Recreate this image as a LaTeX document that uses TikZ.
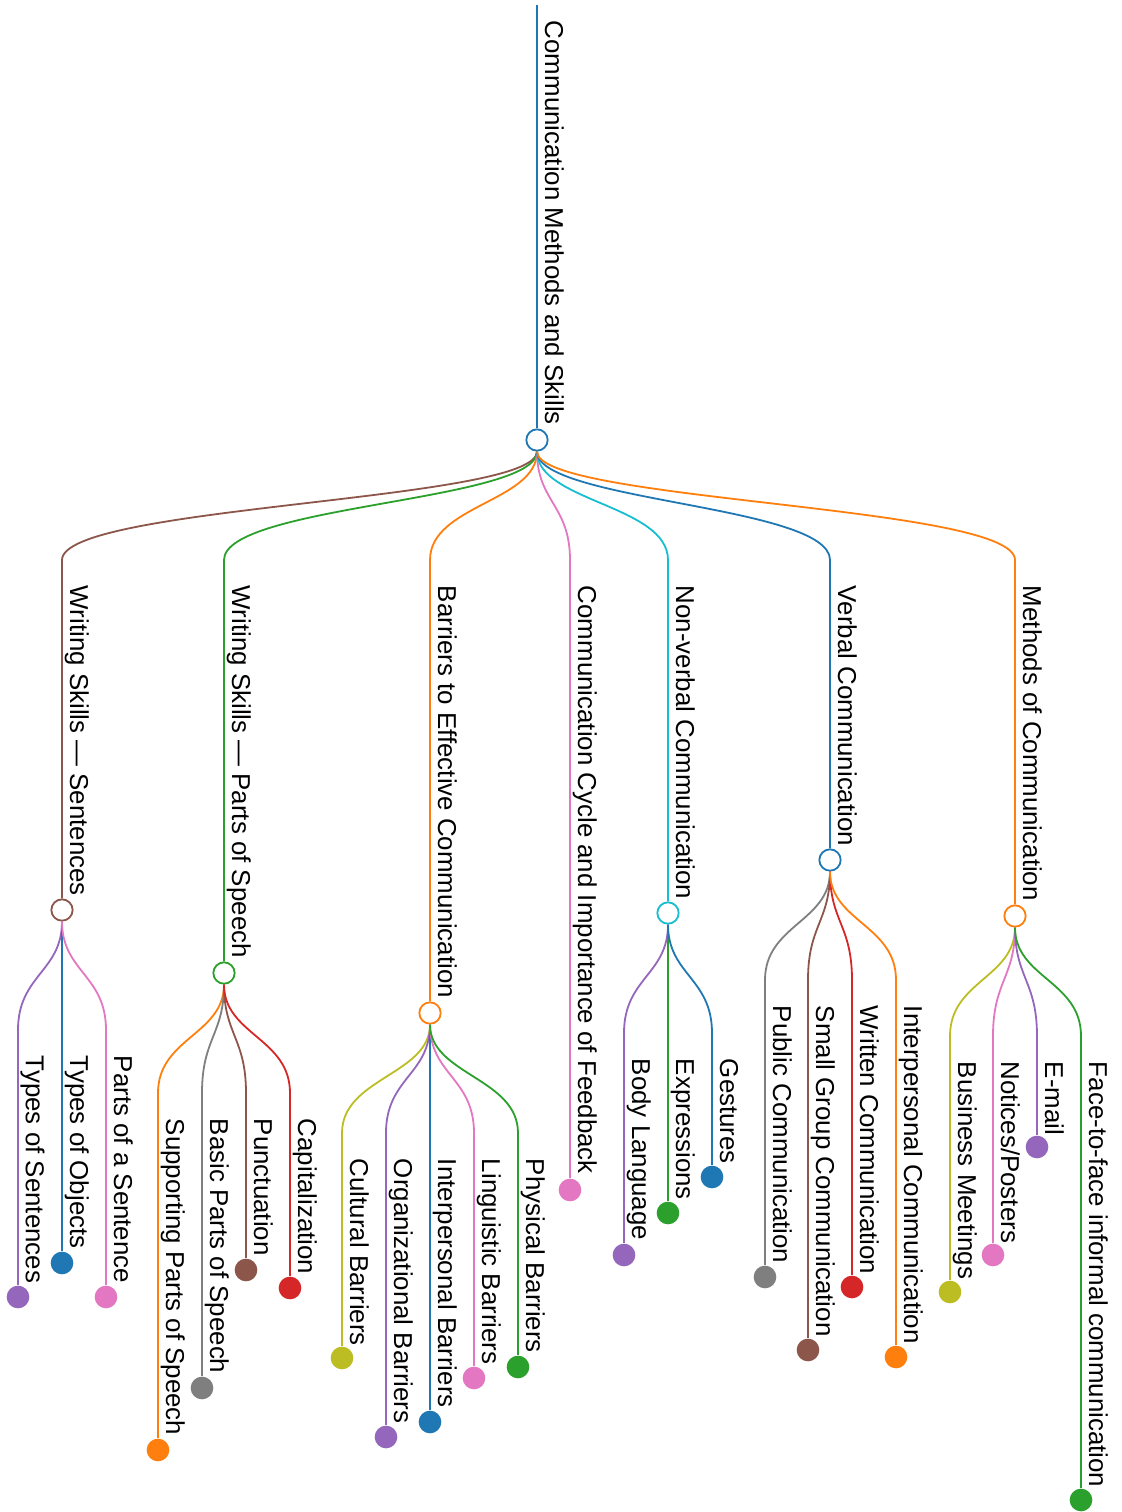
\documentclass[tikz,border=0pt]{standalone}
\usepackage{fontspec}
\setmainfont{Liberation Sans}

\definecolor{cblue}{HTML}{1F77B4}
\definecolor{corange}{HTML}{FF7F0E}
\definecolor{cgreen}{HTML}{2CA02C}
\definecolor{cred}{HTML}{D62728}
\definecolor{cpurple}{HTML}{9467BD}
\definecolor{cbrown}{HTML}{8C564B}
\definecolor{cpink}{HTML}{E377C2}
\definecolor{cgray}{HTML}{7F7F7F}
\definecolor{colive}{HTML}{BCBD22}
\definecolor{ccyan}{HTML}{17BECF}

\begin{document}
\begin{tikzpicture}[x=0.75pt, y=-0.75pt, line width=1.35pt,
        main/.style = {draw, circle, fill=white, minimum size=16pt, inner sep=0pt},
        leaf/.style = {circle, minimum size=17pt, inner sep=0pt},
        lbl/.style = {rotate=-90, anchor=base west, inner sep=0pt, font=\fontsize{19.4}{22}\selectfont}]
        \useasboundingbox (0,0) rectangle (1121,1512);

        % root
        \coordinate (rootTop) at (537,5);
        \node[main, draw=cblue] (root) at (537,440) {};
        \node[lbl] (rootT) at (545,20) {Communication Methods and Skills};

        % first level
        \coordinate (wsTop) at (62,560);
        \coordinate (psTop) at (224,560);
        \coordinate (barTop) at (430,560);
        \coordinate (fbTop) at (570,560);
        \coordinate (nvTop) at (668,560);
        \coordinate (vcTop) at (830,560);
        \coordinate (mcTop) at (1015,560);

        \node[main, draw=cbrown] (ws) at (62,910) {};
        \node[main, draw=cgreen] (ps) at (224,973) {};
        \node[main, draw=corange] (bar) at (430,1013) {};
        \node[leaf, fill=cpink] (fb) at (570,1190) {};
        \node[main, draw=ccyan] (nv) at (668,913) {};
        \node[main, draw=cblue] (vc) at (830,860) {};
        \node[main, draw=corange] (mc) at (1015,916) {};

        \node[lbl] (wsT) at (70,585) {Writing Skills — Sentences};
        \node[lbl] (psT) at (232,585) {Writing Skills — Parts of Speech};
        \node[lbl] (barT) at (438,585) {Barriers to Effective Communication};
        \node[lbl] (fbT) at (578,585) {Communication Cycle and Importance of Feedback};
        \node[lbl] (nvT) at (676,585) {Non-verbal Communication};
        \node[lbl] (vcT) at (838,585) {Verbal Communication};
        \node[lbl] (mcT) at (1023,585) {Methods of Communication};

        % writing skills, sentences
        \coordinate (tsenTop) at (18,1030);
        \coordinate (tobjTop) at (62,1030);
        \coordinate (psenTop) at (106,1030);
        \node[leaf, fill=cpurple] (tsen) at (18,1297) {};
        \node[leaf, fill=cblue] (tobj) at (62,1263) {};
        \node[leaf, fill=cpink] (psen) at (106,1297) {};
        \node[lbl] (tsenT) at (26,1055) {Types of Sentences};
        \node[lbl] (tobjT) at (70,1055) {Types of Objects};
        \node[lbl] (psenT) at (114,1055) {Parts of a Sentence};

        % writing skills, parts of speech
        \coordinate (supTop) at (158,1093);
        \coordinate (basTop) at (202,1093);
        \coordinate (punTop) at (246,1093);
        \coordinate (capiTop) at (290,1093);
        \node[leaf, fill=corange] (sup) at (158,1450) {};
        \node[leaf, fill=cgray] (bas) at (202,1388) {};
        \node[leaf, fill=cbrown] (pun) at (246,1270) {};
        \node[leaf, fill=cred] (capi) at (290,1288) {};
        \node[lbl] (supT) at (166,1118) {Supporting Parts of Speech};
        \node[lbl] (basT) at (210,1118) {Basic Parts of Speech};
        \node[lbl] (punT) at (254,1118) {Punctuation};
        \node[lbl] (capiT) at (298,1118) {Capitalization};

        % barriers
        \coordinate (culTop) at (342,1133);
        \coordinate (orgTop) at (386,1133);
        \coordinate (ipbTop) at (430,1133);
        \coordinate (linTop) at (474,1133);
        \coordinate (phyTop) at (518,1133);
        \node[leaf, fill=colive] (cul) at (342,1358) {};
        \node[leaf, fill=cpurple] (org) at (386,1437) {};
        \node[leaf, fill=cblue] (ipb) at (430,1422) {};
        \node[leaf, fill=cpink] (lin) at (474,1378) {};
        \node[leaf, fill=cgreen] (phy) at (518,1367) {};
        \node[lbl] (culT) at (350,1158) {Cultural Barriers};
        \node[lbl] (orgT) at (394,1158) {Organizational Barriers};
        \node[lbl] (ipbT) at (438,1158) {Interpersonal Barriers};
        \node[lbl] (linT) at (482,1158) {Linguistic Barriers};
        \node[lbl] (phyT) at (526,1158) {Physical Barriers};

        % non-verbal
        \coordinate (bodyTop) at (624,1033);
        \coordinate (exprTop) at (668,1033);
        \coordinate (gestTop) at (712,1033);
        \node[leaf, fill=cpurple] (body) at (624,1255) {};
        \node[leaf, fill=cgreen] (expr) at (668,1213) {};
        \node[leaf, fill=cblue] (gest) at (712,1177) {};
        \node[lbl] (bodyT) at (632,1058) {Body Language};
        \node[lbl] (exprT) at (676,1058) {Expressions};
        \node[lbl] (gestT) at (720,1058) {Gestures};

        % verbal
        \coordinate (pubTop) at (765,980);
        \coordinate (sgcTop) at (808,980);
        \coordinate (wrcTop) at (852,980);
        \coordinate (ipcTop) at (896,980);
        \node[leaf, fill=cgray] (pub) at (765,1277) {};
        \node[leaf, fill=cbrown] (sgc) at (808,1350) {};
        \node[leaf, fill=cred] (wrc) at (852,1287) {};
        \node[leaf, fill=corange] (ipc) at (896,1357) {};
        \node[lbl] (pubT) at (773,1005) {Public Communication};
        \node[lbl] (sgcT) at (816,1005) {Small Group Communication};
        \node[lbl] (wrcT) at (860,1005) {Written Communication};
        \node[lbl] (ipcT) at (904,1005) {Interpersonal Communication};

        % methods
        \coordinate (busTop) at (950,1036);
        \coordinate (notTop) at (993,1036);
        \coordinate (mailTop) at (1037,1036);
        \coordinate (ftfTop) at (1081,1036);
        \node[leaf, fill=colive] (bus) at (950,1292) {};
        \node[leaf, fill=cpink] (not) at (993,1255) {};
        \node[leaf, fill=cpurple] (mail) at (1037,1147) {};
        \node[leaf, fill=cgreen] (ftf) at (1081,1500) {};
        \node[lbl] (busT) at (958,1061) {Business Meetings};
        \node[lbl] (notT) at (1001,1061) {Notices/Posters};
        \node[lbl] (mailT) at (1045,1061) {E-mail};
        \node[lbl] (ftfT) at (1089,1061) {Face-to-face informal communication};

        % links
        \draw[cblue] (rootTop) -- (root);

        \draw[cbrown] (root.south) .. controls +(0,50) and +(0,-55) .. (wsTop) -- (ws);
        \draw[cgreen] (root.south) .. controls +(0,50) and +(0,-55) .. (psTop) -- (ps);
        \draw[corange] (root.south) .. controls +(0,50) and +(0,-55) .. (barTop) -- (bar);
        \draw[cpink] (root.south) .. controls +(0,50) and +(0,-55) .. (fbTop) -- (fb);
        \draw[ccyan] (root.south) .. controls +(0,50) and +(0,-55) .. (nvTop) -- (nv);
        \draw[cblue] (root.south) .. controls +(0,50) and +(0,-55) .. (vcTop) -- (vc);
        \draw[corange] (root.south) .. controls +(0,50) and +(0,-55) .. (mcTop) -- (mc);

        \draw[cpurple] (ws.south) .. controls +(0,50) and +(0,-55) .. (tsenTop) -- (tsen);
        \draw[cblue] (ws.south) .. controls +(0,50) and +(0,-55) .. (tobjTop) -- (tobj);
        \draw[cpink] (ws.south) .. controls +(0,50) and +(0,-55) .. (psenTop) -- (psen);

        \draw[corange] (ps.south) .. controls +(0,50) and +(0,-55) .. (supTop) -- (sup);
        \draw[cgray] (ps.south) .. controls +(0,50) and +(0,-55) .. (basTop) -- (bas);
        \draw[cbrown] (ps.south) .. controls +(0,50) and +(0,-55) .. (punTop) -- (pun);
        \draw[cred] (ps.south) .. controls +(0,50) and +(0,-55) .. (capiTop) -- (capi);

        \draw[colive] (bar.south) .. controls +(0,50) and +(0,-55) .. (culTop) -- (cul);
        \draw[cpurple] (bar.south) .. controls +(0,50) and +(0,-55) .. (orgTop) -- (org);
        \draw[cblue] (bar.south) .. controls +(0,50) and +(0,-55) .. (ipbTop) -- (ipb);
        \draw[cpink] (bar.south) .. controls +(0,50) and +(0,-55) .. (linTop) -- (lin);
        \draw[cgreen] (bar.south) .. controls +(0,50) and +(0,-55) .. (phyTop) -- (phy);

        \draw[cpurple] (nv.south) .. controls +(0,50) and +(0,-55) .. (bodyTop) -- (body);
        \draw[cgreen] (nv.south) .. controls +(0,50) and +(0,-55) .. (exprTop) -- (expr);
        \draw[cblue] (nv.south) .. controls +(0,50) and +(0,-55) .. (gestTop) -- (gest);

        \draw[cgray] (vc.south) .. controls +(0,50) and +(0,-55) .. (pubTop) -- (pub);
        \draw[cbrown] (vc.south) .. controls +(0,50) and +(0,-55) .. (sgcTop) -- (sgc);
        \draw[cred] (vc.south) .. controls +(0,50) and +(0,-55) .. (wrcTop) -- (wrc);
        \draw[corange] (vc.south) .. controls +(0,50) and +(0,-55) .. (ipcTop) -- (ipc);

        \draw[colive] (mc.south) .. controls +(0,50) and +(0,-55) .. (busTop) -- (bus);
        \draw[cpink] (mc.south) .. controls +(0,50) and +(0,-55) .. (notTop) -- (not);
        \draw[cpurple] (mc.south) .. controls +(0,50) and +(0,-55) .. (mailTop) -- (mail);
        \draw[cgreen] (mc.south) .. controls +(0,50) and +(0,-55) .. (ftfTop) -- (ftf);
    \end{tikzpicture}
\end{document}
